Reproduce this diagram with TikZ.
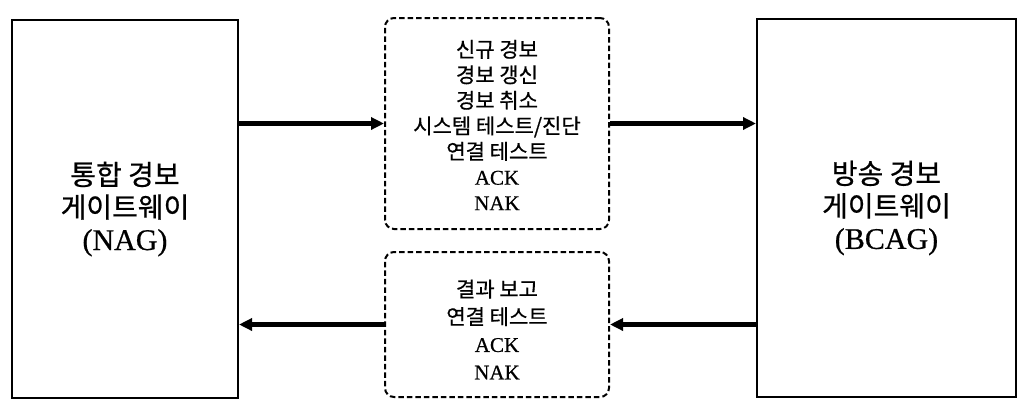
\documentclass[tikz,border=0pt]{standalone}
\usepackage{fontspec}
\setmainfont[FakeBold=0.6]{Liberation Serif}
\newfontfamily\kr[FakeBold=0.6]{Noto Sans CJK KR}
\usetikzlibrary{arrows.meta}
\begin{document}
\begin{tikzpicture}[x=1pt,y=-1pt,
  gw/.style={draw,line width=2pt,minimum width=#1,minimum height=378pt,align=center,inner sep=0pt,
    font=\fontsize{28}{32.5}\selectfont},
  msg/.style={draw,line width=2pt,dash pattern=on 5.5pt off 3pt,rounded corners=9pt,
    minimum width=224pt,inner sep=0pt},
  msgtext/.style={align=center,inner sep=0pt,font=\fontsize{21}{#1}\selectfont},
  arr/.style={line width=4.5pt,-{Triangle[length=13pt,width=12pt]}}]
\useasboundingbox (0,0) rectangle (1026,408);
\node[gw=226pt] (L) at (125,209) {{\kr 통합 경보}\\{\kr 게이트웨이}\\{\fontsize{30}{32}\selectfont(NAG)}};
\node[gw=259pt] (R) at (886.5,208) {{\kr 방송 경보}\\{\kr 게이트웨이}\\{\fontsize{30}{32}\selectfont(BCAG)}};
\node[msg,minimum height=211pt] (T) at (497,123.5) {};
\node[msg,minimum height=145pt] (B) at (497,324.5) {};
\node[msgtext=25.5] (Tt) at ([yshift=-1.5pt]T.center) {{\kr 신규 경보}\\{\kr 경보 갱신}\\{\kr 경보 취소}\\{\kr 시스템 테스트/진단}\\{\kr 연결 테스트}\\ACK\\NAK};
\node[msgtext=27.5] (Bt) at ([yshift=-5pt]B.center) {{\kr 결과 보고}\\{\kr 연결 테스트}\\ACK\\NAK};
\draw[arr] (L.east |- T.west) -- (T.west);
\draw[arr] (T.east) -- (T.east -| R.west);
\draw[arr] (B.east -| R.west) -- (B.east);
\draw[arr] (B.west) -- (B.west -| L.east);
\end{tikzpicture}
\end{document}
